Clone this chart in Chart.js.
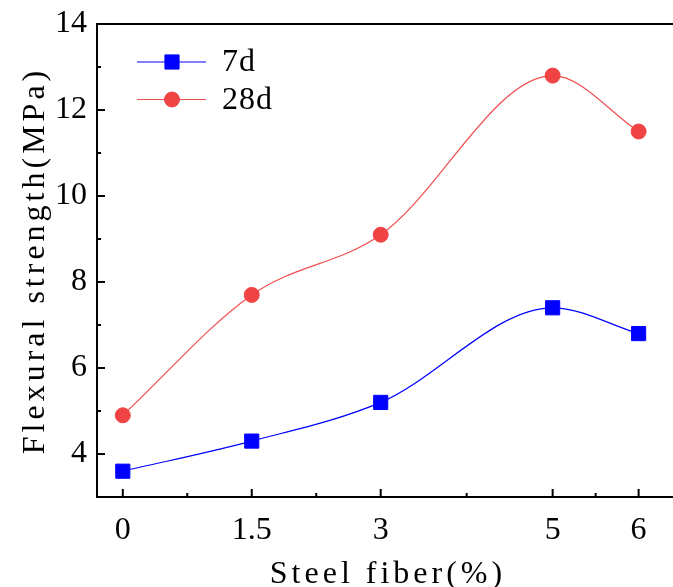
<!DOCTYPE html>
<html>
<head>
<meta charset="utf-8">
<script src="https://cdn.jsdelivr.net/npm/chart.js@4.4.1/dist/chart.umd.min.js"></script>
<style>
  html, body { margin: 0; padding: 0; background: #fff; overflow: hidden; }
  #wrap { width: 673px; height: 587px; }
</style>
</head>
<body>
<div id="wrap"><canvas id="flexChart"></canvas></div>
<script>
"use strict";
// 鋼繊維量と曲げ強度
var fiberContent = [0, 1.5, 3, 5, 6];
var strength7d = [3.6, 4.3, 5.2, 7.4, 6.8];
var strength28d = [4.9, 7.7, 9.1, 12.8, 11.5];
var seriesNames = ["7d", "28d"];
var xTickValues = [0, 1.5, 3, 5, 6];
var xMinorTicks = [0.75, 2.25, 4, 5.5];
var yTickValues = [4, 6, 8, 10, 12, 14];
var yMinorTicks = [5, 7, 9, 11, 13];
var xTitle = "Steel fiber(%)";
var yTitle = "Flexural strength(MPa)";

var FONT = "'Liberation Serif', 'Times New Roman', serif";

function toPoints(xs, ys) {
    return xs.map(function (x, i) { return { x: x, y: ys[i] }; });
}

// 枠線・内向き目盛り・軸タイトル・凡例
var framePlugin = {
    id: 'framePlugin',
    afterDraw: function (chart) {
        var ctx = chart.ctx;
        var a = chart.chartArea;
        var sx = chart.scales.x;
        var sy = chart.scales.y;
        ctx.save();
        ctx.strokeStyle = '#000';
        ctx.lineWidth = 2;
        ctx.beginPath();
        ctx.moveTo(a.left, a.top);
        ctx.lineTo(a.left, a.bottom);
        ctx.moveTo(a.left - 1, a.bottom);
        ctx.lineTo(a.right, a.bottom);
        ctx.moveTo(a.left - 1, a.top);
        ctx.lineTo(a.right, a.top);
        xTickValues.forEach(function (v) {
            var p = sx.getPixelForValue(v);
            ctx.moveTo(p, a.bottom); ctx.lineTo(p, a.bottom - 8);
        });
        xMinorTicks.forEach(function (v) {
            var p = sx.getPixelForValue(v);
            ctx.moveTo(p, a.bottom); ctx.lineTo(p, a.bottom - 4);
        });
        yTickValues.forEach(function (v) {
            var p = sy.getPixelForValue(v);
            ctx.moveTo(a.left, p); ctx.lineTo(a.left + 8, p);
        });
        yMinorTicks.forEach(function (v) {
            var p = sy.getPixelForValue(v);
            ctx.moveTo(a.left, p); ctx.lineTo(a.left + 4, p);
        });
        ctx.stroke();

        // 軸タイトル
        ctx.fillStyle = '#000';
        ctx.font = "32px " + FONT;
        ctx.letterSpacing = '4px';
        ctx.textAlign = 'center';
        ctx.textBaseline = 'alphabetic';
        ctx.fillText(xTitle, 388, 583);
        ctx.save();
        ctx.translate(44, (a.top + a.bottom) / 2);
        ctx.rotate(-Math.PI / 2);
        ctx.fillText(yTitle, 0, 0);
        ctx.restore();

        // 凡例
        ctx.letterSpacing = '1px';
        ctx.textAlign = 'left';
        ctx.textBaseline = 'middle';
        chart.data.datasets.forEach(function (ds, i) {
            var y = 62 + i * 37.5;
            ctx.strokeStyle = ds.borderColor;
            ctx.lineWidth = ds.borderWidth;
            ctx.beginPath();
            ctx.moveTo(137, y);
            ctx.lineTo(206, y);
            ctx.stroke();
            ctx.fillStyle = ds.pointBackgroundColor;
            ctx.strokeStyle = ds.pointBorderColor;
            ctx.lineWidth = 1;
            Chart.helpers.drawPoint(ctx, {
                pointStyle: ds.pointStyle,
                radius: ds.pointRadius,
                rotation: 0,
                borderWidth: 1
            }, 172, y);
            ctx.fillStyle = '#000';
            ctx.fillText(ds.label, 222, y + 1);
        });
        ctx.restore();
    }
};

var ctx = document.getElementById("flexChart");
var flexChart = new Chart(ctx, {
    type: 'line',
    data: {
        datasets: [{
            label: seriesNames[0],
            data: toPoints(fiberContent, strength7d),
            borderColor: '#0000FF',
            borderWidth: 1.2,
            pointStyle: 'rect',
            pointRadius: 10,
            pointBackgroundColor: '#0000FF',
            pointBorderColor: '#0000FF',
            pointBorderWidth: 1,
            cubicInterpolationMode: 'monotone'
        }, {
            label: seriesNames[1],
            data: toPoints(fiberContent, strength28d),
            borderColor: '#F04D4D',
            borderWidth: 1.2,
            pointStyle: 'circle',
            pointRadius: 7.5,
            pointBackgroundColor: '#F04444',
            pointBorderColor: '#F04444',
            pointBorderWidth: 1,
            cubicInterpolationMode: 'monotone'
        }]
    },
    options: {
        responsive: true,
        maintainAspectRatio: false,
        animation: false,
        layout: {
            autoPadding: false,
            padding: { top: 24, right: 0, left: 0, bottom: 0 }
        },
        plugins: {
            legend: { display: false },
            tooltip: { enabled: false }
        },
        scales: {
            x: {
                type: 'linear',
                min: -0.3,
                max: 6.4,
                afterBuildTicks: function (scale) {
                    scale.ticks = xTickValues.map(function (v) { return { value: v }; });
                },
                afterFit: function (scale) {
                    scale.height = 90;
                    scale.paddingLeft = 0;
                    scale.paddingRight = 0;
                },
                grid: { display: false, drawTicks: false },
                border: { display: false },
                ticks: {
                    color: '#000',
                    padding: 14,
                    maxRotation: 0,
                    font: { family: FONT, size: 32 },
                    callback: function (v) { return String(v); }
                }
            },
            y: {
                type: 'linear',
                min: 3,
                max: 14,
                afterBuildTicks: function (scale) {
                    scale.ticks = yTickValues.map(function (v) { return { value: v }; });
                },
                afterFit: function (scale) {
                    scale.width = 97;
                    scale.paddingTop = 0;
                    scale.paddingBottom = 0;
                },
                grid: { display: false, drawTicks: false },
                border: { display: false },
                ticks: {
                    color: '#000',
                    padding: 10,
                    font: { family: FONT, size: 32 },
                    callback: function (v) { return String(v); }
                }
            }
        }
    },
    plugins: [framePlugin]
});
</script>
</body>
</html>
